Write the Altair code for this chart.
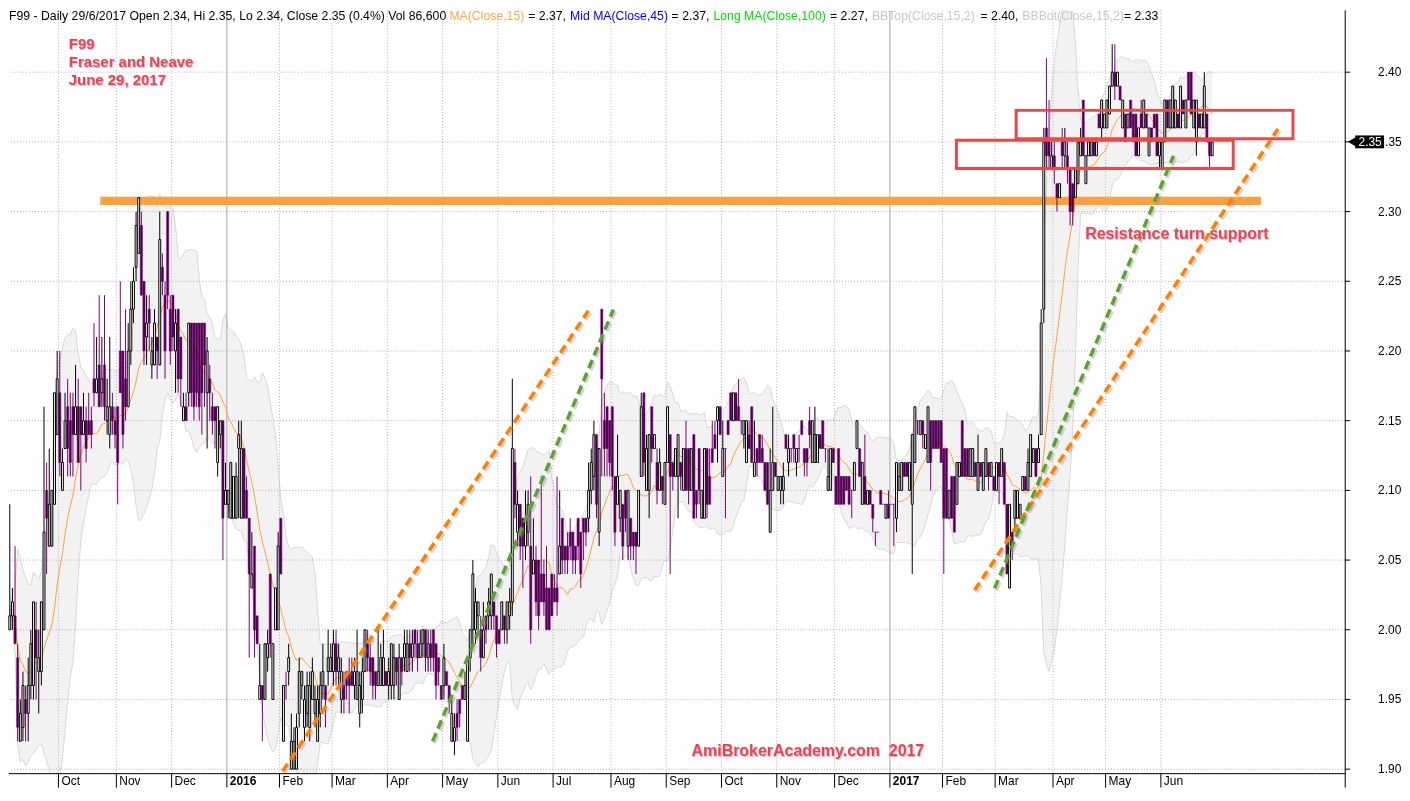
import altair as alt
import pandas as pd

FONT = "Liberation Sans"

# ---- daily candles, (open, close, high, low) in cents, one list per month ----
sep15 = [(200,201,209,200),(201,202,203,200),(201,199,206,199),(198,193,199,192),(192,194,195,192),
         (193,196,197,192),(195,194,196,192),(194,196,198,192),(196,199,200,195),(196,202,202,195),
         (200,198,202,195),(197,198,200,194),(197,202,202,196),(200,207,216,200),(210,208,212,204),
         (206,209,213,206),(206,210,210,206),(209,217,217,209),(214,218,220,214)]
oct15 = [(217,212,220,211),(210,212,213,210),(213,215,217,213),(216,213,218,211),(215,212,217,211),
         (216,214,217,211),(214,216,219,214),(216,212,218,212),(216,214,216,210),(214,215,217,214),
         (215,213,216,212),(215,214,217,214),(215,214,216,213),(218,217,222,216),(217,218,221,217),
         (219,216,224,216),(217,218,221,216),(219,216,224,215),(215,216,218,214),(214,216,221,213),
         (216,215,217,214),(215,214,216,213)]
nov15 = [(216,212,216,209),(220,217,225,217),(220,214,220,213),(218,216,223,215),(216,220,222,216),
         (220,223,225,219),(223,225,226,222),(226,229,230,225),(227,231,231,227),(229,224,230,224),
         (225,220,225,219),(221,222,224,219),(223,222,224,220),(219,220,221,218),(219,222,223,219),
         (221,220,221,218),(219,228,230,219),(226,225,227,224),(224,220,225,218),(230,224,230,223),
         (223,220,224,219)]
dec15 = [(224,221,224,220),(220,222,223,217),(223,218,223,217),(221,218,221,216),(215,216,217,215),
         (216,215,217,215),(217,222,222,216),(222,217,222,216),(222,216,222,215),(222,217,222,216),
         (222,216,222,215),(222,217,222,214),(222,219,222,216),(217,220,221,213),(218,217,219,215),
         (216,215,217,214),(216,215,216,213),(212,216,216,211),(214,215,215,213),(215,208,215,205),
         (209,210,212,209)]
jan16 = [(209,210,210,208),(208,212,212,208),(208,211,211,208),(208,211,212,208),(213,214,215,208),
         (208,213,215,208),(213,208,213,208),(210,208,211,208),(208,204,208,198),(203,204,207,203),
         (206,200,206,198),(201,199,201,199),(195,196,199,195),(196,195,196,192),(195,199,199,195),
         (198,199,200,197),(204,199,204,198),(195,199,199,195),(200,203,203,200),(200,206,207,200)]
feb16 = [(208,204,208,204),(192,196,196,192),(196,196,197,195),(197,198,199,196),(190,192,194,190),
         (190,192,193,190),(190,193,194,190),(194,197,198,193),(196,197,197,195),(193,195,196,192),
         (194,196,197,193),(193,196,197,192),(195,197,198,195),(194,195,196,193),(192,195,196,192),
         (194,196,197,193),(196,197,199,195),(196,195,196,193),(197,198,200,196),(197,198,199,197)]
mar16 = [(197,199,200,196),(199,197,200,196),(197,198,199,196),(195,197,198,194),(196,195,197,194),
         (197,196,197,195),(197,196,198,194),(197,196,198,196),(196,197,198,195),(195,197,200,195),
         (194,196,197,193),(195,197,198,194),(197,200,200,197),(199,198,200,197),(198,197,199,196),
         (198,196,198,195),(197,196,197,195),(196,197,200,196),(196,198,199,196),(196,198,200,196),
         (197,196,197,196)]
apr16 = [(196,197,198,195),(196,199,199,195),(196,198,199,195),(198,197,198,196),(195,198,199,195),
         (198,197,198,196),(198,199,200,197),(197,199,200,197),(199,198,200,197),(198,199,200,197),
         (200,199,200,198),(199,198,200,197),(198,199,200,198),(199,200,200,198),(200,198,200,197),
         (198,199,200,197),(199,198,200,197),(200,198,200,197),(199,196,199,195),(198,197,198,196),
         (196,195,196,195)]
may16 = [(196,198,199,195),(197,196,197,196),(196,195,196,194),(192,194,195,192),(192,193,194,191),
         (194,193,195,192),(195,194,195,193),(196,195,196,195),(195,196,197,195),(192,198,198,192),
         (198,200,200,197),(200,204,205,199),(200,202,203,199),(201,202,202,200),(200,198,201,197),
         (198,200,202,198),(201,200,201,199),(201,202,203,200),(201,204,204,200),(202,201,202,200),
         (201,199,201,198)]
jun16 = [(200,199,200,199),(200,202,202,200),(201,200,201,199),(200,202,202,199),(201,202,203,200),
         (202,213,218,201),(212,209,213,208),(207,209,210,206),(209,206,209,205),(208,206,208,203),
         (206,208,210,205),(207,209,210,206),(206,200,211,199),(204,205,208,204),(205,202,206,201),
         (205,201,205,200),(204,202,211,202),(204,202,205,201),(203,200,206,200),(203,200,203,200),
         (204,201,204,201)]
jul16 = [(203,202,204,202),(203,202,211,201),(204,206,210,204),(208,205,208,204),(206,205,206,204),
         (206,205,207,204),(207,206,208,205),(207,205,207,204),(206,205,206,204),(208,206,208,205),
         (207,204,207,203),(208,207,208,205),(208,207,208,206),(208,210,212,207),(210,212,213,209),
         (211,214,215,210),(214,209,214,208),(207,213,213,206),(223,218,223,211),(215,213,217,211),
         (216,213,216,211),(215,212,215,211)]
aug16 = [(216,211,216,210),(211,207,211,206),(209,211,214,209),(208,210,210,207),(209,206,209,205),
         (210,208,210,207),(206,210,210,205),(208,206,208,205),(207,206,207,205),(207,206,207,204),
         (206,210,210,206),(211,216,217,211),(217,212,217,211),(210,213,214,210),(210,214,214,208),
         (216,213,216,212),(213,214,214,213),(212,210,213,209),(210,212,213,210),(211,210,211,209),
         (209,212,212,209)]
sep16 = [(212,216,216,212),(214,211,214,204),(212,211,212,210),(211,213,213,211),(211,214,214,208),
         (212,211,212,210),(210,213,213,210),(213,210,215,210),(213,210,213,209),(210,213,213,210),
         (214,208,214,208),(210,209,210,208),(213,210,213,209),(208,210,210,208),(208,213,213,208),
         (213,209,213,208),(211,209,213,209),(213,212,215,212),(214,213,215,213),(215,216,216,212),
         (216,214,216,214)]
oct16 = [(211,213,215,211),(213,213,213,208),(215,214,215,214),(217,215,217,215),(215,217,217,215),
         (217,215,217,215),(216,215,218,215),(215,215,215,214),(214,215,215,213),(212,215,215,212),
         (214,213,215,213),(216,212,216,212),(211,212,215,211),(213,212,213,211),(214,212,214,212),
         (213,212,214,212),(212,210,212,210),(212,209,212,209),(207,210,213,207),(210,212,216,210),
         (212,211,212,211)]
nov16 = [(210,211,211,210),(210,211,211,209),(210,211,212,209),(214,213,214,213),(212,213,214,211),
         (213,213,213,212),(214,213,214,212),(212,213,213,211),(213,213,214,212),(215,214,215,214),
         (213,212,213,211),(213,212,213,211),(215,214,216,213),(212,215,215,212),(212,214,216,212),
         (212,214,214,212),(214,213,214,213),(215,213,215,213),(213,213,213,212),(210,211,213,210),
         (210,213,213,210),(213,212,213,212)]
dec16 = [(211,209,211,209),(213,209,213,209),(211,209,211,209),(211,209,211,209),(211,210,211,210),
         (211,209,211,209),(210,210,210,208),(210,212,212,210),(213,215,215,213),(213,211,213,211),
         (209,212,212,209),(211,209,214,209),(209,210,210,209),(210,209,210,209),(209,208,209,207),
         (207,207,207,206),(207,207,207,207),(210,209,210,209),(209,209,209,209),(208,209,209,208),
         (209,208,210,208)]
jan17 = [(209,209,209,209),(209,209,209,206),(208,212,212,207),(210,211,212,210),(210,212,212,210),
         (212,211,212,211),(212,211,212,211),(210,212,212,210),(209,214,214,204),(212,216,216,212),
         (215,215,215,214),(214,215,215,214),(215,214,215,213),(213,214,214,213),(212,216,216,212),
         (215,212,215,210),(215,213,215,213),(215,213,215,213),(215,213,215,213),(215,212,215,212)]
feb17 = [(213,208,213,204),(213,208,213,208),(208,210,210,208),(211,208,211,208),(211,207,211,207),
         (209,212,212,209),(211,212,212,211),(215,211,215,211),(213,211,213,211),(213,211,213,211),
         (211,213,213,211),(211,213,213,211),(212,211,212,211),(210,212,214,210),(212,211,212,211),
         (210,212,212,210),(211,213,213,211),(212,211,212,210),(211,212,212,211),(211,210,211,210)]
mar17 = [(210,212,212,210),(212,211,212,209),(211,213,213,211),(212,209,212,209),
         (209,204,209,204),(203,209,209,203),(207,206,207,205),(208,210,210,207),(208,210,210,208),
         (208,209,209,208),(210,211,211,210),(211,210,211,210),(210,212,213,210),(211,214,214,211),
         (212,213,213,212),(213,211,213,211),(212,213,214,212),(214,222,223,214),(223,235,236,222),
         (236,234,241,233),(235,234,238,233),(233,234,235,233)]
apr17 = [(234,233,235,232),(232,231,232,230),(231,232,232,231),(235,234,236,233),(234,235,236,233),
         (234,233,235,232),(233,230,233,229),(232,230,232,229),(231,233,233,231),(232,235,235,232),
         (234,235,236,234),(238,234,238,234),(232,234,234,232),(234,235,235,234),(234,235,235,234),
         (235,234,235,234),(234,235,235,234),(237,236,237,236),(236,238,238,235),(236,237,237,236)]
may17 = [(236,238,238,236),(237,239,239,237),(239,240,242,239),(240,239,242,238),(239,240,240,239),
         (239,238,239,238),(236,238,238,236),(237,235,237,235),(236,237,237,236),(238,236,238,236),
         (237,235,237,235),(237,234,237,234),(234,236,236,234),(237,236,238,236),(236,238,238,236),
         (237,236,237,236),(234,236,236,234),(236,235,236,235),(237,236,237,236),(237,234,237,234),
         (234,235,235,233)]
jun17 = [(233,235,235,233),(235,238,238,235),(238,236,238,236),(236,238,238,236),(236,239,239,236),
         (236,238,238,236),(237,236,237,236),(236,239,239,236),(238,237,238,237),(236,238,238,236),
         (240,238,240,238),(240,237,240,237),(236,238,238,236),(235,238,238,234),(237,236,237,236),
         (236,237,237,236),(236,239,240,236),(237,235,237,235),(235,234,235,233),(234,235,235,234)]

months = [sep15, oct15, nov15, dec15, jan16, feb16, mar16, apr16, may16, jun16, jul16,
          aug16, sep16, oct16, nov16, dec16, jan17, feb17, mar17, apr17, may17, jun17]
month_labels = ["Sep", "Oct", "Nov", "Dec", "2016", "Feb", "Mar", "Apr", "May", "Jun", "Jul",
                "Aug", "Sep", "Oct", "Nov", "Dec", "2017", "Feb", "Mar", "Apr", "May", "Jun"]
price_levels = [1.90, 1.95, 2.00, 2.05, 2.10, 2.15, 2.20, 2.25, 2.30, 2.35, 2.40]

# annotations (bar index / price)
resist_i = [34.4, 475.6]
resist_p = [2.3047, 2.3107]
box_i0 = [382.5, 359.8]
box_i1 = [487.7, 465.0]
box_p0 = [2.3523, 2.3309]
box_p1 = [2.3726, 2.3512]
trend_id = ["o1", "o1", "g1", "g1", "o2", "o2", "g2", "g2"]
trend_col = ["#FF8000", "#FF8000", "#5DA130", "#5DA130", "#FF8000", "#FF8000", "#5DA130", "#5DA130"]
trend_i = [103.7, 219.9, 160.7, 229.4, 366.7, 482.0, 374.3, 442.3]
trend_p = [1.8985, 2.2289, 1.9199, 2.2297, 2.0283, 2.3593, 2.0297, 2.3400]
last_close = 2.35

# ---- tables ----
rows, starts, k = [], [], 0
for m in months:
    starts.append(k)
    for o, c, h, l in m:
        rows.append({"i": k, "o": o / 100, "c": c / 100,
                     "h": max(o, c, h) / 100, "l": min(o, c, l) / 100, "up": c > o})
        k += 1
bars = pd.DataFrame(rows)
ticks = pd.DataFrame({"pos": [s - 0.5 for s in starts[1:]], "label": month_labels[1:],
                      "year": [n.isdigit() for n in month_labels[1:]]})
levels = pd.DataFrame({"p": price_levels,
                       "covered": [abs(p - last_close) < 1e-9 for p in price_levels]})
resist = pd.DataFrame({"i0": [resist_i[0]], "i1": [resist_i[1]], "p0": [resist_p[0]], "p1": [resist_p[1]]})
boxes = pd.DataFrame({"i0": box_i0, "i1": box_i1, "p0": box_p0, "p1": box_p1})
trends = pd.DataFrame({"line": trend_id, "col": trend_col, "i": trend_i, "p": trend_p})
marker = pd.DataFrame({"p": [last_close], "p0": [last_close - 0.0046], "p1": [last_close + 0.0046],
                       "lab": [f"{last_close:.2f}"], "tail": [f"{last_close:.2f}"[1:]]})

W, H = 1341, 766
XS = alt.Scale(domain=[-0.303, 507.56], nice=False, zero=False)
YS = alt.Scale(domain=[1.89678, 2.44432], nice=False, zero=False)


def X(f):
    return alt.X(f, scale=XS, axis=None)


def Y(f):
    return alt.Y(f, scale=YS, axis=None)


PURPLE = "#800080"
base = alt.Chart(bars)
bb = base.transform_window(ma="mean(c)", sd="stdevp(c)", frame=[-14, 0],
                           sort=[alt.SortField("i")]).transform_calculate(
    hi="datum.ma + 2*datum.sd", lo="datum.ma - 2*datum.sd")

band = bb.mark_area(color="#f2f2f2", clip=True).encode(x=X("i:Q"), y=Y("lo:Q"), y2="hi:Q")
band_hi = bb.mark_line(color="#d8d8d8", strokeWidth=1, clip=True).encode(x=X("i:Q"), y=Y("hi:Q"))
band_lo = bb.mark_line(color="#d8d8d8", strokeWidth=1, clip=True).encode(x=X("i:Q"), y=Y("lo:Q"))
ma_line = bb.mark_line(color="#FFA040", strokeWidth=1, clip=True).encode(x=X("i:Q"), y=Y("ma:Q"))

hgrid = alt.Chart(levels).mark_rule(color="#b0b0b0", strokeDash=[1, 2], strokeWidth=1).encode(
    y=Y("p:Q"))
vgrid_m = alt.Chart(ticks).transform_filter("!datum.year").mark_rule(
    color="#b0b0b0", strokeDash=[1, 2], strokeWidth=1).encode(x=X("pos:Q"))
vgrid_y = alt.Chart(ticks).transform_filter("datum.year").mark_rule(
    color="#a8a8a8", strokeWidth=1).encode(x=X("pos:Q"))

res_band = alt.Chart(resist).mark_rect(color="#FFA040").encode(
    x=X("i0:Q"), x2="i1:Q", y=Y("p0:Q"), y2="p1:Q")

wicks = base.mark_rule(strokeWidth=1, blend="multiply").encode(
    x=X("i:Q"), y=Y("l:Q"), y2="h:Q",
    color=alt.condition("datum.up", alt.value("black"), alt.value(PURPLE)))
up_body = base.transform_filter("datum.up").transform_calculate(
    x0="datum.i - 0.36", x1="datum.i + 0.36").mark_rect(
    fill="white", stroke="black", strokeWidth=1).encode(
    x=X("x0:Q"), x2="x1:Q", y=Y("o:Q"), y2="c:Q")
dn_body = base.transform_filter("!datum.up").transform_calculate(
    x0="datum.i - 0.42", x1="datum.i + 0.42").mark_rect(
    fill=PURPLE, stroke=PURPLE, strokeWidth=0.5, blend="multiply").encode(
    x=X("x0:Q"), x2="x1:Q", y=Y("o:Q"), y2="c:Q")

box_marks = alt.Chart(boxes).mark_rect(fill="white", fillOpacity=0, stroke="#E84A4A",
                                       strokeWidth=3).encode(
    x=X("i0:Q"), x2="i1:Q", y=Y("p0:Q"), y2="p1:Q")

trend_shadow = alt.Chart(trends).mark_line(strokeDash=[9, 5], strokeWidth=3.5, color="#8a8a8a",
                                           opacity=0.35, xOffset=2, yOffset=2).encode(
    x=X("i:Q"), y=Y("p:Q"), detail="line:N")
trend_lines = alt.Chart(trends).mark_line(strokeDash=[9, 5], strokeWidth=3.5).encode(
    x=X("i:Q"), y=Y("p:Q"), detail="line:N", color=alt.Color("col:N", scale=None))


def txt(s, x, y, size=12, color="black", weight="normal", align="left", baseline="alphabetic"):
    return alt.Chart(pd.DataFrame({"t": [s]})).mark_text(
        align=align, baseline=baseline, fontSize=size, font=FONT, fontWeight=weight,
        color=color).encode(text="t:N", x=alt.value(x), y=alt.value(y))


RED = "#E8474A"
PINK = "#F6B0DA"
texts = []
for s, x, y, sz in [("F99", 60, 38.5, 15), ("Fraser and Neave", 60, 57, 15),
                    ("June 29, 2017", 60, 75, 15),
                    ("Resistance turn support", 1080, 229, 16),
                    ("AmiBrokerAcademy.com\u00a0 2017", 685, 748, 16)]:
    texts.append(txt(s, x + 1, y + 1, sz, PINK, "bold"))
    texts.append(txt(s, x, y, sz, RED, "bold"))

header = [("F99 - Daily 29/6/2017 Open 2.34, Hi 2.35, Lo 2.34, Close 2.35 (0.4%) Vol 86,600", 0, "black"),
          ("MA(Close,15)", 442, "#FFA54F"), ("= 2.37,", 521, "black"),
          ("Mid MA(Close,45)", 563, "#0000FF"), ("= 2.37,", 665, "black"),
          ("Long MA(Close,100)", 707, "#00DD00"), ("= 2.27,", 824, "black"),
          ("BBTop(Close,15,2)", 866, "#C8C8C8"), ("= 2.40,", 975, "black"),
          ("BBBot(Close,15,2)", 1017, "#C8C8C8"), ("= 2.33", 1119, "black")]
for s, x, c in header:
    texts.append(txt(s, x, 9.5, 12.3, c))

# right price axis
y_dom = alt.Chart(levels.head(1)).mark_rule(color="black", strokeWidth=1).encode(
    x=alt.value(W), y=alt.value(0), y2=alt.value(H + 14))
y_ticks = alt.Chart(levels).mark_rule(color="black", strokeWidth=1).encode(
    x=alt.value(W), x2=alt.value(W + 5), y=Y("p:Q"))
y_labels = alt.Chart(levels).transform_filter("!datum.covered").mark_text(
    align="left", baseline="middle", fontSize=12, font=FONT, color="black").encode(
    x=alt.value(W + 33), y=Y("p:Q"), text=alt.Text("p:Q", format=".2f"))

# last-close marker (covers the start of its own axis label, as in the original)
mk_rect = alt.Chart(marker).mark_rect(color="black").encode(
    x=alt.value(1351), x2=alt.value(1380), y=Y("p0:Q"), y2="p1:Q")
mk_tri = alt.Chart(marker).mark_point(shape="triangle-left", filled=True, color="black",
                                      opacity=1, size=150).encode(x=alt.value(1349), y=Y("p:Q"))
mk_txt = alt.Chart(marker).mark_text(color="white", fontSize=12, font=FONT, align="center",
                                     baseline="middle").encode(
    x=alt.value(1366), y=Y("p:Q"), text="lab:N")
mk_tail = alt.Chart(marker).mark_text(color="black", fontSize=12, font=FONT, align="left",
                                      baseline="middle").encode(
    x=alt.value(W + 40), y=Y("p:Q"), text="tail:N")

# bottom time axis
x_line = alt.Chart(levels.head(1)).mark_rule(color="black", strokeWidth=1).encode(
    x=alt.value(0), x2=alt.value(W), y=alt.value(H))
x_ticks = alt.Chart(ticks).mark_rule(color="black", strokeWidth=1).encode(
    x=X("pos:Q"), y=alt.value(H), y2=alt.value(H + 14))
x_lab_m = alt.Chart(ticks).transform_filter("!datum.year").mark_text(
    align="left", baseline="top", dx=3, fontSize=12, font=FONT, color="black").encode(
    x=X("pos:Q"), y=alt.value(H + 2), text="label:N")
x_lab_y = alt.Chart(ticks).transform_filter("datum.year").mark_text(
    align="left", baseline="top", dx=3, fontSize=12, font=FONT, fontWeight="bold",
    color="black").encode(x=X("pos:Q"), y=alt.value(H + 2), text="label:N")

chart = alt.layer(
    band, band_hi, band_lo, hgrid, vgrid_m, vgrid_y, ma_line, res_band,
    wicks, up_body, dn_body, box_marks, trend_shadow, trend_lines,
    *texts, y_dom, y_ticks, y_labels, mk_rect, mk_tri, mk_txt, mk_tail,
    x_line, x_ticks, x_lab_m, x_lab_y
).properties(width=W, height=H, background="white",
             padding={"left": 0, "right": 0, "top": 0, "bottom": 0}
).configure_view(stroke=None)

chart.save("out.html", embed_options={"renderer": "svg", "actions": False})
